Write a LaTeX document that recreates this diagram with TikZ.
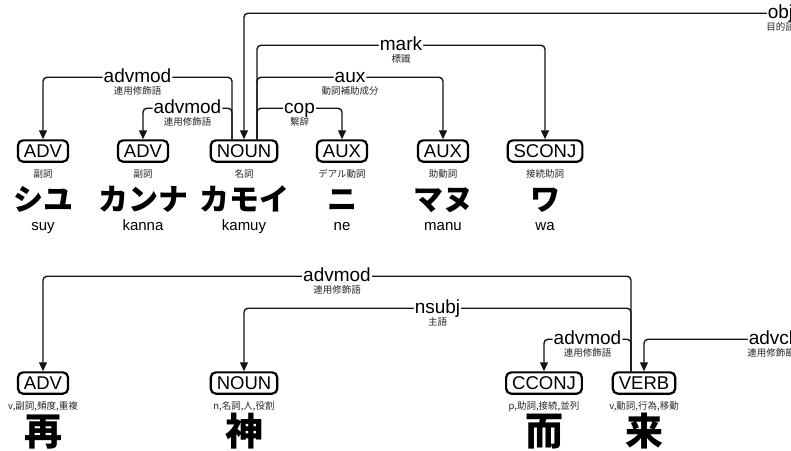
\documentclass[tikz,border=0pt]{standalone}
\usepackage{fontspec}
\setmainfont{Liberation Sans}
\newfontfamily\cjk{Noto Sans CJK JP}
\usetikzlibrary{arrows.meta,positioning}
\definecolor{GlossGray}{RGB}{40,40,40}
\definecolor{ArcBlack}{RGB}{20,20,20}

\tikzset{
  upos/.style={draw,line width=2.2pt,rounded corners=5pt,inner xsep=6pt,inner ysep=4pt,
    text height=13.3pt,text depth=0pt,font=\fontsize{18.5}{20}\selectfont},
  gloss/.style={font=\cjk\fontsize{9.5}{10}\selectfont,text=GlossGray,inner sep=0pt,
    text height=8pt,text depth=1.5pt},
  kana/.style={font=\cjk\bfseries\fontsize{30}{32}\selectfont,inner sep=0pt,
    text height=26pt,text depth=4pt},
  hanzi/.style={font=\cjk\bfseries\fontsize{38}{40}\selectfont,inner sep=0pt,
    text height=33pt,text depth=5pt},
  roman/.style={font=\fontsize{15}{16}\selectfont,inner sep=0pt,
    text height=11pt,text depth=3pt},
  deprel/.style={fill=white,inner sep=1pt,text height=14pt,text depth=4pt,
    font=\fontsize{19}{20}\selectfont},
  sub/.style={gloss,label distance=-2pt},
  dep/.style={draw=ArcBlack,line width=1.4pt,rounded corners=4pt,
    -{Triangle[length=9pt,width=8pt]}},
}

\begin{document}
\begin{tikzpicture}[x=1pt,y=1pt]
  \useasboundingbox (0,0) rectangle (791,-450);
  \clip (0,0) rectangle (791,-450);

  % --- Ainu sentence ---
  \node[upos] (suy) at (43,-151) {ADV};
  \node[gloss,below=7pt of suy] (suy-g) {副詞};
  \node[kana,below=5pt of suy-g] (suy-w) {シユ};
  \node[roman,below=4pt of suy-w] {suy};

  \node[upos] (kanna) at (143,-151) {ADV};
  \node[gloss,below=7pt of kanna] (kanna-g) {副詞};
  \node[kana,below=5pt of kanna-g] (kanna-w) {カンナ};
  \node[roman,below=4pt of kanna-w] {kanna};

  \node[upos] (kamuy) at (244,-151) {NOUN};
  \node[gloss,below=7pt of kamuy] (kamuy-g) {名詞};
  \node[kana,below=5pt of kamuy-g] (kamuy-w) {カモイ};
  \node[roman,below=4pt of kamuy-w] {kamuy};

  \node[upos] (ne) at (342,-151) {AUX};
  \node[gloss,below=7pt of ne] (ne-g) {デアル動詞};
  \node[kana,below=5pt of ne-g] (ne-w) {ニ};
  \node[roman,below=4pt of ne-w] {ne};

  \node[upos] (manu) at (443,-151) {AUX};
  \node[gloss,below=7pt of manu] (manu-g) {助動詞};
  \node[kana,below=5pt of manu-g] (manu-w) {マヌ};
  \node[roman,below=4pt of manu-w] {manu};

  \node[upos] (wa) at (545,-151) {SCONJ};
  \node[gloss,below=7pt of wa] (wa-g) {接続助詞};
  \node[kana,below=5pt of wa-g] (wa-w) {ワ};
  \node[roman,below=4pt of wa-w] {wa};

  \path (kamuy.north) ++(1073,0) coordinate (objhead);

  \draw[dep] (objhead) -- ++(0,126) -| node[deprel,pos=0.25,label={[sub]below:目的語}]{obj} (kamuy.north);
  \draw[dep] ([xshift=13pt]kamuy.north) -- ++(0,94) -| node[deprel,pos=0.25,label={[sub]below:標識}]{mark} (wa.north);
  \draw[dep] ([xshift=13pt]kamuy.north) -- ++(0,62) -| node[deprel,pos=0.25,label={[sub]below:動詞補助成分}]{aux} (manu.north);
  \draw[dep] ([xshift=13pt]kamuy.north) -- ++(0,31) -| node[deprel,pos=0.25,label={[sub]below:繫辞}]{cop} (ne.north);
  \draw[dep] ([xshift=-12pt]kamuy.north) -- ++(0,62) -| node[deprel,pos=0.25,label={[sub]below:連用修飾語}]{advmod} (suy.north);
  \draw[dep] ([xshift=-12pt]kamuy.north) -- ++(0,31) -| node[deprel,pos=0.25,label={[sub]below:連用修飾語}]{advmod} (kanna.north);

  % --- Chinese sentence ---
  \node[upos] (zai) at (43,-383) {ADV};
  \node[gloss,below=7pt of zai] (zai-g) {v,副詞,頻度,重複};
  \node[hanzi,below=1pt of zai-g] {再};

  \node[upos] (shen) at (244,-383) {NOUN};
  \node[gloss,below=7pt of shen] (shen-g) {n,名詞,人,役割};
  \node[hanzi,below=1pt of shen-g] {神};

  \node[upos] (er) at (544,-383) {CCONJ};
  \node[gloss,below=7pt of er] (er-g) {p,助詞,接続,並列};
  \node[hanzi,below=1pt of er-g] {而};

  \node[upos] (lai) at (644,-383) {VERB};
  \node[gloss,below=7pt of lai] (lai-g) {v,動詞,行為,移動};
  \node[hanzi,below=1pt of lai-g] {来};

  \path (lai.north) ++(254,0) coordinate (advclhead);

  \draw[dep] ([xshift=-13pt]lai.north) -- ++(0,95) -| node[deprel,pos=0.25,label={[sub]below:連用修飾語}]{advmod} (zai.north);
  \draw[dep] ([xshift=-13pt]lai.north) -- ++(0,63) -| node[deprel,pos=0.25,label={[sub]below:主語}]{nsubj} (shen.north);
  \draw[dep] ([xshift=-13pt]lai.north) -- ++(0,32) -| node[deprel,pos=0.25,label={[sub]below:連用修飾語}]{advmod} (er.north);
  \draw[dep] (advclhead) -- ++(0,32) -| node[deprel,pos=0.25,label={[sub]below:連用修飾節}]{advcl} (lai.north);
\end{tikzpicture}
\end{document}
